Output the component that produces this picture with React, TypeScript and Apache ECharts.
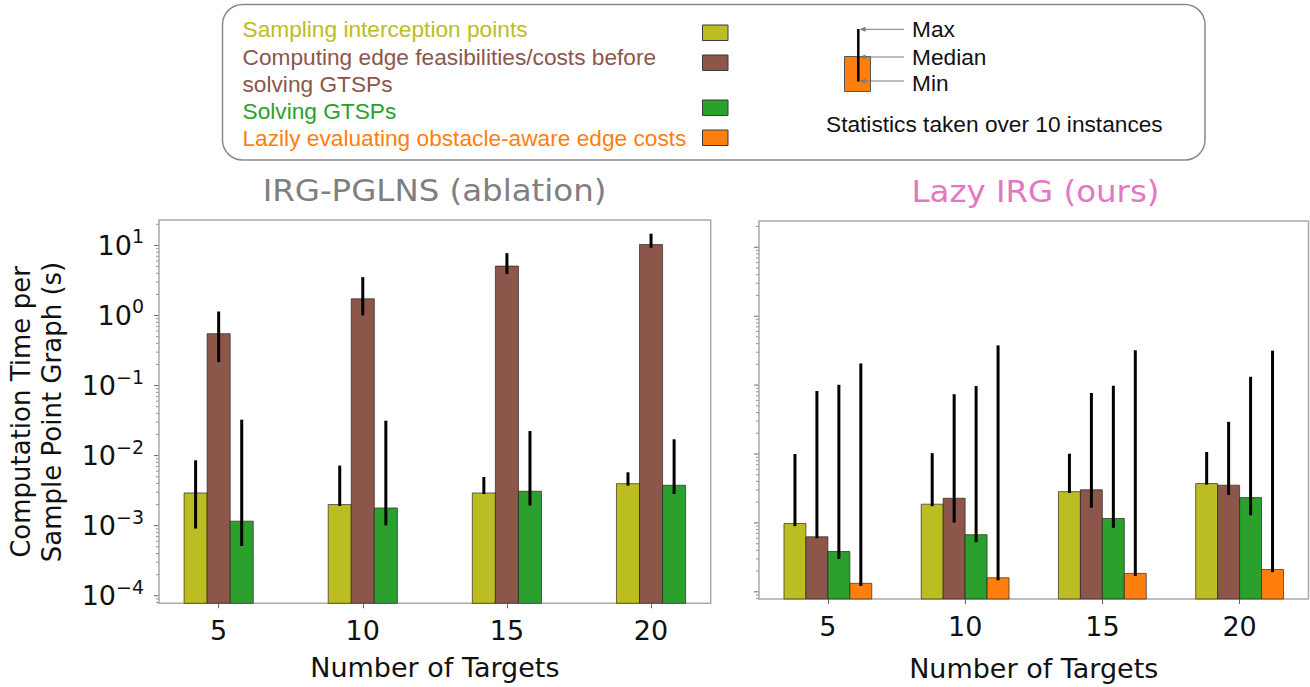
import React, { useEffect, useRef } from 'react';
import * as echarts from 'echarts';

// ---------- data ----------
const categories = ['5', '10', '15', '20'];
const legendLabels = [
  'Sampling interception points',
  'Computing edge feasibilities/costs before\nsolving GTSPs',
  'Solving GTSPs',
  'Lazily evaluating obstacle-aware edge costs',
];
const colors = ['#bcbd22', '#8c564b', '#2ca02c', '#ff7f0e'];

// IRG-PGLNS (ablation): medians, mins, maxes (seconds)
const pglnsSamplingMed = [0.00293, 0.0020, 0.00293, 0.00398];
const pglnsSamplingMin = [0.00091, 0.00191, 0.00283, 0.00373];
const pglnsSamplingMax = [0.00857, 0.0072, 0.00495, 0.00578];
const pglnsEdgeMed = [0.55, 1.73, 5.07, 10.3];
const pglnsEdgeMin = [0.216, 1.0, 3.9, 9.27];
const pglnsEdgeMax = [1.14, 3.53, 7.76, 14.7];
const pglnsGtspMed = [0.00116, 0.00179, 0.0031, 0.00377];
const pglnsGtspMin = [0.000514, 0.00101, 0.00194, 0.00283];
const pglnsGtspMax = [0.0326, 0.0315, 0.0224, 0.0171];

// Lazy IRG (ours)
const lazySamplingMed = [0.00098, 0.00187, 0.00284, 0.00373];
const lazySamplingMin = [0.000897, 0.00175, 0.00272, 0.0036];
const lazySamplingMax = [0.0100, 0.0103, 0.0101, 0.0107];
const lazyEdgeMed = [0.00063, 0.00228, 0.00303, 0.00353];
const lazyEdgeMin = [0.000598, 0.00101, 0.00166, 0.00255];
const lazyEdgeMax = [0.082, 0.0737, 0.0769, 0.0293];
const lazyGtspMed = [0.000385, 0.000675, 0.00116, 0.00233];
const lazyGtspMin = [0.0003, 0.000525, 0.00085, 0.00129];
const lazyGtspMax = [0.101, 0.0968, 0.098, 0.132];
const lazyEvalMed = [0.000133, 0.00016, 0.000185, 0.000211];
const lazyEvalMin = [0.000122, 0.000147, 0.00017, 0.000193];
const lazyEvalMax = [0.206, 0.377, 0.32, 0.316];

const majorExponents = [-4, -3, -2, -1, 0, 1];
const minorMultipliers = [2, 3, 4, 5, 6, 7, 8, 9];
const minorDecades = [-5, -4, -3, -2, -1, 0, 1];

// ---------- layout ----------
const BAR_W = 0.16;
const LEFT_X = [-0.414, 3.414];
const RIGHT_X = [-0.502, 3.502];
const LEFT_Y = [Math.pow(10, -4.108), Math.pow(10, 1.363)];
const RIGHT_Y = [Math.pow(10, -4.104), Math.pow(10, 1.381)];
const TICK_FONT = 'DejaVu Sans';
const LEGEND_FONT = 'Liberation Sans';
const LEGEND_SIZE = 22.7;

function barSeries(axis: number, offset: number, color: string, med: number[], mn: number[], mx: number[], floor: number, name: string) {
  return {
    type: 'custom',
    name,
    xAxisIndex: axis,
    yAxisIndex: axis,
    clip: false,
    silent: true,
    data: med.map((v, i) => [i, v, mn[i], mx[i]]),
    renderItem: (params: any, api: any) => {
      const i = api.value(0);
      const v = api.value(1);
      const lo = api.value(2);
      const hi = api.value(3);
      const xc = i + offset;
      const tl = api.coord([xc - BAR_W / 2, v]);
      const br = api.coord([xc + BAR_W / 2, floor]);
      const eLo = api.coord([xc, lo]);
      const eHi = api.coord([xc, hi]);
      return {
        type: 'group',
        children: [
          {
            type: 'rect',
            shape: { x: tl[0], y: tl[1], width: br[0] - tl[0], height: br[1] - tl[1] },
            style: { fill: color, stroke: 'rgba(30,30,30,0.65)', lineWidth: 1 },
          },
          {
            type: 'line',
            shape: { x1: eLo[0], y1: eLo[1], x2: eHi[0], y2: eHi[1] },
            style: { stroke: '#000', lineWidth: 3 },
          },
        ],
      };
    },
  };
}

function yTickSeries(axis: number, xMin: number, yRange: number[]) {
  const data: number[][] = [];
  majorExponents.forEach((e) => data.push([xMin, Math.pow(10, e), 1]));
  minorDecades.forEach((d) =>
    minorMultipliers.forEach((m) => {
      const v = m * Math.pow(10, d);
      if (v >= yRange[0] && v <= yRange[1]) data.push([xMin, v, 0]);
    })
  );
  return {
    type: 'custom',
    xAxisIndex: axis,
    yAxisIndex: axis,
    clip: false,
    silent: true,
    data,
    renderItem: (params: any, api: any) => {
      const p = api.coord([api.value(0), api.value(1)]);
      const major = api.value(2) === 1;
      const len = major ? 5 : 3;
      return {
        type: 'line',
        shape: { x1: p[0] - len, y1: p[1], x2: p[0] - 0.5, y2: p[1] },
        style: { stroke: '#666', lineWidth: major ? 1 : 0.7 },
      };
    },
  };
}

function yLabelFormatter(v: number) {
  const l = Math.log10(v);
  const r = Math.round(l);
  if (Math.abs(l - r) > 1e-6) return '';
  const exp = r < 0 ? '\u2212' + Math.abs(r) : String(r);
  return '{b|10}{s|' + exp + '}';
}

function xAxisCfg(grid: number, range: number[], nameGap: number) {
  return {
    type: 'value',
    gridIndex: grid,
    min: range[0],
    max: range[1],
    axisLine: { show: false },
    splitLine: { show: false },
    axisTick: { show: true, customValues: [0, 1, 2, 3], length: 5, lineStyle: { color: '#666', width: 1 } },
    axisLabel: {
      customValues: [0, 1, 2, 3],
      formatter: (v: number) => categories[Math.round(v)] ?? '',
      fontSize: 27,
      fontFamily: TICK_FONT,
      color: '#111',
      margin: 14,
    },
    name: 'Number of Targets',
    nameLocation: 'middle',
    nameGap,
    nameTextStyle: { fontSize: 27, fontFamily: TICK_FONT, color: '#111' },
  };
}

function yAxisCfg(grid: number, range: number[], showLabels: boolean) {
  return {
    type: 'log',
    logBase: 10,
    gridIndex: grid,
    min: range[0],
    max: range[1],
    axisLine: { show: false },
    axisTick: { show: false },
    splitLine: { show: false },
    minorTick: { show: false },
    axisLabel: {
      show: showLabels,
      margin: 15,
      formatter: yLabelFormatter,
      rich: {
        b: { fontSize: 27, fontFamily: TICK_FONT, color: '#111', lineHeight: 30 },
        s: { fontSize: 19, fontFamily: TICK_FONT, color: '#111', lineHeight: 19, padding: [0, 0, 18, 0] },
      },
    },
  };
}

function legendGraphics() {
  const els: any[] = [];
  els.push({
    type: 'rect',
    shape: { x: 222.5, y: 4.5, width: 982.5, height: 155.5, r: 20 },
    style: { fill: 'none', stroke: '#8a8a8a', lineWidth: 1.5 },
  });
  const textYs = [29, 56.5, 83.5, 110.5, 137.5];
  const lines = [
    { t: legendLabels[0].split('\n')[0], c: colors[0], y: textYs[0] },
    { t: legendLabels[1].split('\n')[0], c: colors[1], y: textYs[1] },
    { t: legendLabels[1].split('\n')[1], c: colors[1], y: textYs[2] },
    { t: legendLabels[2], c: colors[2], y: textYs[3] },
    { t: legendLabels[3], c: colors[3], y: textYs[4] },
  ];
  lines.forEach((l) =>
    els.push({
      type: 'text',
      x: 242.5,
      y: l.y,
      style: { text: l.t, fill: l.c, fontSize: LEGEND_SIZE, fontFamily: LEGEND_FONT, align: 'left', verticalAlign: 'middle' },
    })
  );
  const swatchYs = [25, 55, 100, 130];
  swatchYs.forEach((y, i) =>
    els.push({
      type: 'rect',
      shape: { x: 702.5, y, width: 25.5, height: 15.5 },
      style: { fill: colors[i], stroke: '#3a3a3a', lineWidth: 1 },
    })
  );
  // statistics glyph
  els.push({
    type: 'rect',
    shape: { x: 844.5, y: 56.5, width: 26, height: 35 },
    style: { fill: colors[3], stroke: '#555', lineWidth: 1 },
  });
  els.push({
    type: 'line',
    shape: { x1: 858.3, y1: 29, x2: 858.3, y2: 81.5 },
    style: { stroke: '#000', lineWidth: 2.5 },
  });
  const arrowYs = [29.3, 57, 81];
  arrowYs.forEach((y) => {
    els.push({
      type: 'line',
      shape: { x1: 904, y1: y, x2: 864, y2: y },
      style: { stroke: '#7a7a7a', lineWidth: 1 },
    });
    els.push({
      type: 'polygon',
      shape: { points: [[859.5, y], [865.5, y - 2.5], [865.5, y + 2.5]] },
      style: { fill: '#7a7a7a' },
    });
  });
  const statTexts = [
    { t: 'Max', y: 28.7 },
    { t: 'Median', y: 57 },
    { t: 'Min', y: 83 },
  ];
  statTexts.forEach((s) =>
    els.push({
      type: 'text',
      x: 912,
      y: s.y,
      style: { text: s.t, fill: '#111', fontSize: LEGEND_SIZE, fontFamily: LEGEND_FONT, align: 'left', verticalAlign: 'middle' },
    })
  );
  els.push({
    type: 'text',
    x: 826,
    y: 124,
    style: { text: 'Statistics taken over 10 instances', fill: '#111', fontSize: LEGEND_SIZE, fontFamily: LEGEND_FONT, align: 'left', verticalAlign: 'middle' },
  });
  return els;
}

export default function App() {
  const ref = useRef<HTMLDivElement>(null);
  useEffect(() => {
    if (!ref.current) return;
    const chart = echarts.init(ref.current, undefined, { renderer: 'svg' });
    const option: any = {
      animation: false,
      backgroundColor: '#ffffff',
      grid: [
        { left: 159, top: 220, width: 551.7, height: 383.3, show: true, borderColor: '#ababab', borderWidth: 1.5, containLabel: false },
        { left: 759, top: 221, width: 549.5, height: 384, show: true, borderColor: '#ababab', borderWidth: 1.5, containLabel: false },
      ],
      xAxis: [xAxisCfg(0, LEFT_X, 51), xAxisCfg(1, RIGHT_X, 56)],
      yAxis: [yAxisCfg(0, LEFT_Y, true), yAxisCfg(1, RIGHT_Y, false)],
      series: [
        barSeries(0, -BAR_W, colors[0], pglnsSamplingMed, pglnsSamplingMin, pglnsSamplingMax, LEFT_Y[0], legendLabels[0]),
        barSeries(0, 0, colors[1], pglnsEdgeMed, pglnsEdgeMin, pglnsEdgeMax, LEFT_Y[0], legendLabels[1]),
        barSeries(0, BAR_W, colors[2], pglnsGtspMed, pglnsGtspMin, pglnsGtspMax, LEFT_Y[0], legendLabels[2]),
        barSeries(1, -1.5 * BAR_W, colors[0], lazySamplingMed, lazySamplingMin, lazySamplingMax, RIGHT_Y[0], legendLabels[0]),
        barSeries(1, -0.5 * BAR_W, colors[1], lazyEdgeMed, lazyEdgeMin, lazyEdgeMax, RIGHT_Y[0], legendLabels[1]),
        barSeries(1, 0.5 * BAR_W, colors[2], lazyGtspMed, lazyGtspMin, lazyGtspMax, RIGHT_Y[0], legendLabels[2]),
        barSeries(1, 1.5 * BAR_W, colors[3], lazyEvalMed, lazyEvalMin, lazyEvalMax, RIGHT_Y[0], legendLabels[3]),
        yTickSeries(0, LEFT_X[0], LEFT_Y),
        yTickSeries(1, RIGHT_X[0], RIGHT_Y),
      ],
      graphic: [
        {
          type: 'text',
          x: 434.5,
          y: 191,
          scaleX: 1.1,
          style: { text: 'IRG-PGLNS (ablation)', fill: '#7f7f7f', fontSize: 29.5, fontFamily: TICK_FONT, align: 'center', verticalAlign: 'middle' },
        },
        {
          type: 'text',
          x: 1035.5,
          y: 192,
          scaleX: 1.1,
          style: { text: 'Lazy IRG (ours)', fill: '#e377c2', fontSize: 29.5, fontFamily: TICK_FONT, align: 'center', verticalAlign: 'middle' },
        },
        {
          type: 'text',
          x: 36,
          y: 412,
          rotation: Math.PI / 2,
          style: {
            text: 'Computation Time per\nSample Point Graph (s)',
            fill: '#111',
            fontSize: 26,
            lineHeight: 31,
            fontFamily: TICK_FONT,
            align: 'center',
            verticalAlign: 'middle',
          },
        },
        ...legendGraphics(),
      ],
    };
    chart.setOption(option);
    return () => chart.dispose();
  }, []);
  return (
    <div
      ref={ref}
      style={{ position: 'fixed', left: 0, top: 0, width: 1310, height: 687, background: '#fff' }}
    />
  );
}
